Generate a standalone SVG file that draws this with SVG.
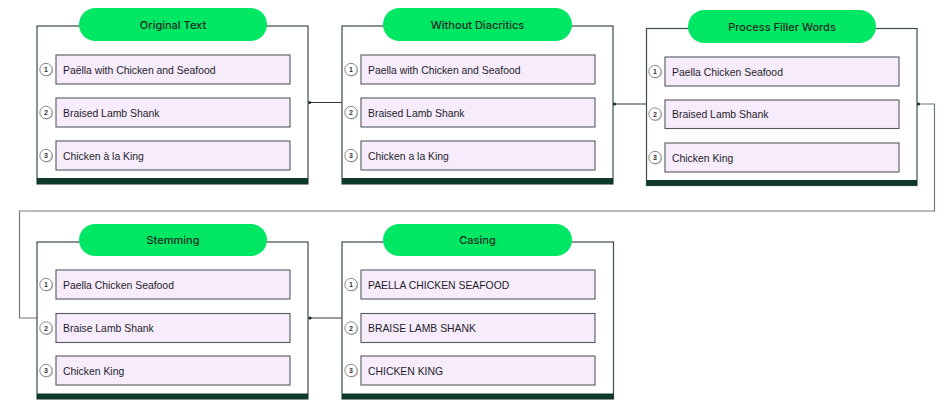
<svg xmlns="http://www.w3.org/2000/svg" width="948" height="410" viewBox="0 0 948 410">
<defs>
<style>
.frame{fill:#ffffff;stroke:#3b4b46;stroke-width:1.2}
.bar{fill:#0d3a2d}
.pill{fill:#00e863}
.title{font-family:Inter,"Liberation Sans",sans-serif;font-size:11px;font-weight:500;fill:#1b2b23;text-anchor:middle}
.item{fill:#f6ecfc;stroke:#555a5c;stroke-width:1.1}
.itxt{font-family:"Liberation Sans",Arial,sans-serif;font-size:10.4px;fill:#1e1e2a}
.badge{fill:#ffffff;stroke:#8a8a8a;stroke-width:1}
.bshadow{fill:#bdbdbd}
.bnum{font-family:"Liberation Sans",Arial,sans-serif;font-size:7px;font-weight:bold;fill:#333;text-anchor:middle}
.conn{fill:none;stroke:#2f3b37;stroke-width:1.2}
.connl{fill:none;stroke:#6f7b77;stroke-width:1.2}
.dot{fill:#1f2b27}
</style>
<g id="badge1"><circle class="bshadow" cx="0.9" cy="0.9" r="6.2"/><circle class="badge" r="6.2"/><text class="bnum" y="2.5">1</text></g>
<g id="badge2"><circle class="bshadow" cx="0.9" cy="0.9" r="6.2"/><circle class="badge" r="6.2"/><text class="bnum" y="2.5">2</text></g>
<g id="badge3"><circle class="bshadow" cx="0.9" cy="0.9" r="6.2"/><circle class="badge" r="6.2"/><text class="bnum" y="2.5">3</text></g>
</defs>

<g id="connectors">
<path class="conn" d="M308 102.5 H342"/><circle class="dot" cx="309.5" cy="102.5" r="1.6"/>
<path class="conn" d="M613 104 H646"/><circle class="dot" cx="614.5" cy="104" r="1.6"/>
<path class="connl" d="M917 104 H934.5 V211 H19.5 V318 H37"/><circle class="dot" cx="918.5" cy="104" r="1.6"/>
<path class="conn" d="M308 318 H342"/><circle class="dot" cx="310" cy="318" r="1.6"/>
</g>

<g id="original-text">
<rect class="frame" x="37" y="26" width="271" height="158"/>
<rect class="bar" x="37" y="178" width="271" height="6"/>
<rect class="pill" x="79" y="8" width="188" height="33" rx="16.5"/>
<text class="title" x="173" y="28.5">Original Text</text>
<rect class="item" x="56" y="55" width="234" height="29"/>
<rect class="item" x="56" y="98" width="234" height="29"/>
<rect class="item" x="56" y="141" width="234" height="29"/>
<use href="#badge1" x="46" y="69.5"/><use href="#badge2" x="46" y="112.5"/><use href="#badge3" x="46" y="155.5"/>
<text class="itxt" x="63" y="73.5">Paëlla with Chicken and Seafood</text>
<text class="itxt" x="63" y="116.5">Braised Lamb Shank</text>
<text class="itxt" x="63" y="159.5">Chicken à la King</text>
</g>

<g id="without-diacritics">
<rect class="frame" x="342" y="26" width="271" height="158"/>
<rect class="bar" x="342" y="178" width="271" height="6"/>
<rect class="pill" x="383" y="8" width="189" height="33" rx="16.5"/>
<text class="title" x="477.5" y="28.5">Without Diacritics</text>
<rect class="item" x="361" y="55" width="234" height="29"/>
<rect class="item" x="361" y="98" width="234" height="29"/>
<rect class="item" x="361" y="141" width="234" height="29"/>
<use href="#badge1" x="351" y="69.5"/><use href="#badge2" x="351" y="112.5"/><use href="#badge3" x="351" y="155.5"/>
<text class="itxt" x="368" y="73.5">Paella with Chicken and Seafood</text>
<text class="itxt" x="368" y="116.5">Braised Lamb Shank</text>
<text class="itxt" x="368" y="159.5">Chicken a la King</text>
</g>

<g id="process-filler-words">
<rect class="frame" x="646.5" y="28.5" width="270.5" height="157"/>
<rect class="bar" x="646.5" y="180" width="270.5" height="5.5"/>
<rect class="pill" x="688" y="10" width="188" height="33" rx="16.5"/>
<text class="title" x="782" y="30.5">Process Filler Words</text>
<rect class="item" x="665" y="57" width="234" height="29"/>
<rect class="item" x="665" y="100" width="234" height="28.5"/>
<rect class="item" x="665" y="143" width="234" height="29"/>
<use href="#badge1" x="655" y="71.5"/><use href="#badge2" x="655" y="114"/><use href="#badge3" x="655" y="157.5"/>
<text class="itxt" x="672" y="75.5">Paella Chicken Seafood</text>
<text class="itxt" x="672" y="118">Braised Lamb Shank</text>
<text class="itxt" x="672" y="161.5">Chicken King</text>
</g>

<g id="stemming">
<rect class="frame" x="37" y="242" width="271" height="157"/>
<rect class="bar" x="37" y="393.5" width="271" height="5.5"/>
<rect class="pill" x="79" y="224" width="188" height="32" rx="16"/>
<text class="title" x="173" y="244">Stemming</text>
<rect class="item" x="56" y="270" width="234" height="29"/>
<rect class="item" x="56" y="313.5" width="234" height="29"/>
<rect class="item" x="56" y="356" width="234" height="29"/>
<use href="#badge1" x="46" y="284.5"/><use href="#badge2" x="46" y="328"/><use href="#badge3" x="46" y="370.5"/>
<text class="itxt" x="63" y="288.5">Paella Chicken Seafood</text>
<text class="itxt" x="63" y="332">Braise Lamb Shank</text>
<text class="itxt" x="63" y="374.5">Chicken King</text>
</g>

<g id="casing">
<rect class="frame" x="342" y="242" width="271.5" height="157"/>
<rect class="bar" x="342" y="393.5" width="271.5" height="5.5"/>
<rect class="pill" x="383" y="224" width="189" height="32" rx="16"/>
<text class="title" x="477.5" y="244">Casing</text>
<rect class="item" x="361" y="270" width="234" height="29"/>
<rect class="item" x="361" y="313.5" width="234" height="29"/>
<rect class="item" x="361" y="356" width="234" height="29"/>
<use href="#badge1" x="351" y="284.5"/><use href="#badge2" x="351" y="328"/><use href="#badge3" x="351" y="370.5"/>
<text class="itxt" x="368" y="288.5">PAELLA CHICKEN SEAFOOD</text>
<text class="itxt" x="368" y="332">BRAISE LAMB SHANK</text>
<text class="itxt" x="368" y="374.5">CHICKEN KING</text>
</g>
</svg>
